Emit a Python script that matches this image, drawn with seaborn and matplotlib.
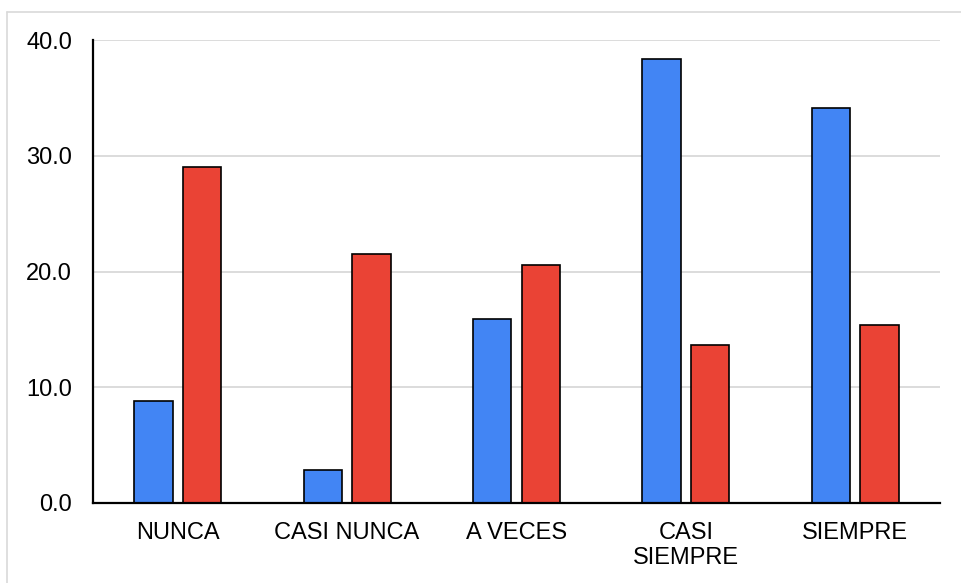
import numpy as np
import pandas as pd
import seaborn as sns
import matplotlib.pyplot as plt
from matplotlib.lines import Line2D

# === data ===
categories = ['NUNCA', 'CASI NUNCA', 'A VECES', 'CASI\nSIEMPRE', 'SIEMPRE']
serie_azul = [8.8, 2.8, 15.9, 38.4, 34.1]
serie_roja = [29.0, 21.5, 20.6, 13.6, 15.4]
series_names = ['Serie 1', 'Serie 2']
y_ticks = [0, 10, 20, 30, 40]

df = pd.DataFrame({
    'categoria': categories * 2,
    'valor': serie_azul + serie_roja,
    'serie': [series_names[0]] * len(categories) + [series_names[1]] * len(categories),
})

# === style ===
sns.set_theme(style="white")
plt.rcParams['font.family'] = ['Liberation Sans', 'DejaVu Sans']

fig = plt.figure(figsize=(9.61, 5.83), dpi=100)
ax = fig.add_axes([0.0968, 0.1377, 0.978 - 0.0968, 0.9309 - 0.1377])

sns.barplot(
    data=df, x='categoria', y='valor', hue='serie',
    palette=['#4285F4', '#EA4335'], saturation=1, width=0.574, gap=0.21,
    edgecolor='black', linewidth=1.2, legend=False, ax=ax,
)

ax.set_ylim(0, 40)
ax.set_xlim(-0.5, len(categories) - 0.5)
ax.set_yticks(y_ticks)
ax.set_yticklabels([f'{v:.1f}' for v in y_ticks])
ax.yaxis.grid(True, color='#d9d9d9', linewidth=1.3)
ax.set_axisbelow(True)
ax.set_xlabel('')
ax.set_ylabel('')

for s in ['top', 'right']:
    ax.spines[s].set_visible(False)
for s in ['left', 'bottom']:
    ax.spines[s].set_color('black')
    ax.spines[s].set_linewidth(1.6)

ax.tick_params(axis='y', length=0, pad=15, labelsize=17, colors='black')
ax.tick_params(axis='x', length=0, pad=14, labelsize=17, colors='black')
for lbl in ax.get_xticklabels():
    lbl.set_linespacing(1.15)

# light border around figure (top and left visible)
fig.add_artist(Line2D([7 / 961, 1.0], [1 - 11.5 / 583, 1 - 11.5 / 583],
                      transform=fig.transFigure, color='#d9d9d9', linewidth=1.2))
fig.add_artist(Line2D([7 / 961, 7 / 961], [0, 1 - 11.5 / 583],
                      transform=fig.transFigure, color='#d9d9d9', linewidth=1.2))

fig.savefig('out.png', dpi=100)
